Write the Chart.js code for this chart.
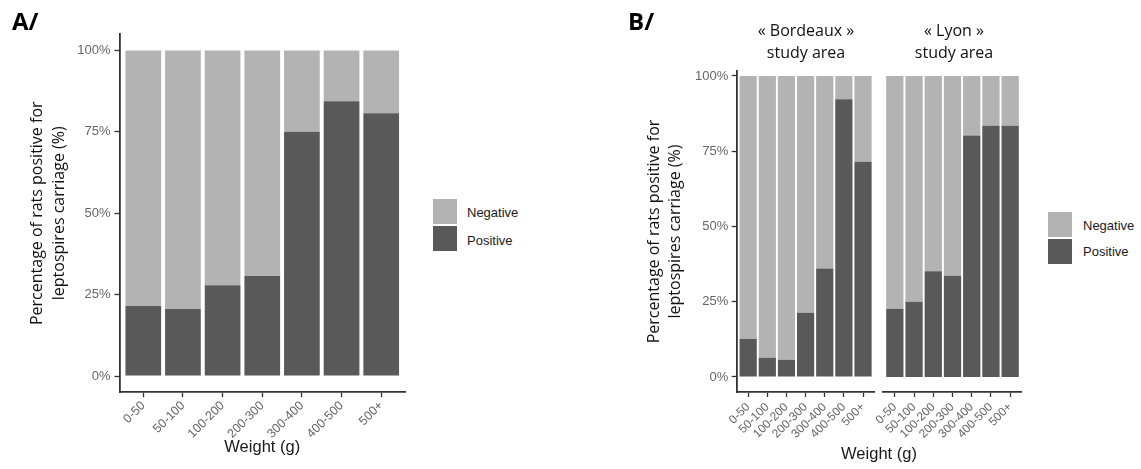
<!DOCTYPE html>
<html><head><meta charset="utf-8">
<script src="https://cdn.jsdelivr.net/npm/chart.js@4.4.1/dist/chart.umd.min.js"></script>
<style>
body{margin:0;background:#fff;width:1141px;height:469px;position:relative;overflow:hidden;font-family:"Liberation Sans",Arial,sans-serif}
canvas{position:absolute;top:0}
.t{position:absolute;white-space:nowrap}
.panel{font-family:"Open Sans",sans-serif;font-weight:700;font-size:24px;line-height:24px;color:#000}
.strip{font-family:"Open Sans",sans-serif;font-size:16px;line-height:21.6px;color:#111;text-align:center;width:160px}
.key{position:absolute;width:24px;height:25px}
.lt{font-size:13px;line-height:20px;color:#1a1a1a}
.xt{font-size:16.5px;line-height:20px;color:#1a1a1a;text-align:center;width:200px}
</style></head><body>
<canvas id="cA" width="420" height="469" style="left:0px"></canvas>
<canvas id="cB1" width="270" height="469" style="left:620px"></canvas>
<canvas id="cB2" width="185" height="469" style="left:850px"></canvas>

<div class="t panel" style="left:12px;top:9px">A/</div>
<div class="t panel" style="left:628px;top:9px">B/</div>
<div class="t strip" style="left:726px;top:20px">« Bordeaux »<br>study area</div>
<div class="t strip" style="left:874px;top:20px">« Lyon »<br>study area</div>
<div class="t xt" style="left:779px;top:443px">Weight (g)</div>

<div class="key" style="left:433px;top:199px;background:#b3b3b3"></div>
<div class="key" style="left:433px;top:226px;background:#595959"></div>
<div class="t lt" style="left:467px;top:203px">Negative</div>
<div class="t lt" style="left:467px;top:231px">Positive</div>

<div class="key" style="left:1048px;top:212px;background:#b3b3b3"></div>
<div class="key" style="left:1048px;top:239px;background:#595959"></div>
<div class="t lt" style="left:1083px;top:216px">Negative</div>
<div class="t lt" style="left:1083px;top:242px">Positive</div>

<script>
const weightClasses = ['0-50','50-100','100-200','200-300','300-400','400-500','500+'];
const yTickValues = [0,25,50,75,100];
const seriesNames = ['Positive','Negative'];

const panelA_positive = [21.5, 20.6, 27.9, 30.7, 75.0, 84.4, 80.7];
const panelA_negative = [78.5, 79.4, 72.1, 69.3, 25.0, 15.6, 19.3];

const bordeaux_positive = [12.6, 6.4, 5.7, 21.3, 36.0, 92.3, 71.5];
const bordeaux_negative = [87.4, 93.6, 94.3, 78.7, 64.0, 7.7, 28.5];

const lyon_positive = [22.7, 25.0, 35.1, 33.6, 80.2, 83.5, 83.5];
const lyon_negative = [77.3, 75.0, 64.9, 66.4, 19.8, 16.5, 16.5];

const yTitle = ['Percentage of rats positive for','leptospires carriage (%)'];
const xTitle = 'Weight (g)';

const COL_POS = '#595959', COL_NEG = '#b3b3b3', AXIS = '#333333', TICKCOL = '#666666';

function pts(arr){ return arr.map((v,i)=>({x:i,y:v})); }

function makePanel(id, pos, neg, o){
  const ctx = document.getElementById(id);
  return new Chart(ctx, {
    type:'bar',
    data:{datasets:[
      {label:seriesNames[0], data:pts(pos), backgroundColor:COL_POS, borderWidth:0, barPercentage:0.9, categoryPercentage:1.0},
      {label:seriesNames[1], data:pts(neg), backgroundColor:COL_NEG, borderWidth:0, barPercentage:0.9, categoryPercentage:1.0}
    ]},
    options:{
      responsive:false, animation:false, devicePixelRatio:1,
      layout:{padding:o.padding},
      plugins:{legend:{display:false}, tooltip:{enabled:false}, title:{display:false}},
      scales:{
        x:{type:'linear', min:-0.6, max:6.6, stacked:true, offset:false,
          afterBuildTicks:s=>{ s.ticks = weightClasses.map((_,i)=>({value:i})); },
          ticks:{callback:v=>weightClasses[v], minRotation:45, maxRotation:45, autoSkip:false,
            font:{family:'"Liberation Sans", Arial, sans-serif', size:o.xTickSize}, color:TICKCOL, padding:o.xTickPad},
          grid:{display:true, offset:false, drawOnChartArea:false, drawTicks:true, tickLength:5, tickColor:AXIS, tickWidth:1.3},
          border:{display:true, color:AXIS, width:1.8},
          title:o.xTitle ? {display:true, text:xTitle, color:'#1a1a1a', font:{family:'"Liberation Sans", Arial, sans-serif', size:16.5, lineHeight:1.2}, padding:{top:0,bottom:12}} : {display:false},
          afterFit:s=>{ s.height = o.xHeight; }
        },
        y:{display:o.yDisplay, min:-5, max:o.yMax, stacked:true,
          afterBuildTicks:s=>{ s.ticks = yTickValues.map(v=>({value:v})); },
          ticks:{callback:v=>v+'%', font:{family:'"Liberation Sans", Arial, sans-serif', size:13}, color:TICKCOL, padding:o.yTickPad},
          grid:{display:true, drawOnChartArea:false, drawTicks:true, tickLength:5, tickColor:AXIS, tickWidth:1.3},
          border:{display:true, color:AXIS, width:1.8},
          title:{display:o.yDisplay, text:yTitle, color:'#111', font:{family:'"Open Sans", sans-serif', size:16, lineHeight:o.yLH}, padding:{top:o.yTitlePad, bottom:0}},
          afterFit:s=>{ s.width = o.yWidth; }
        }
      }
    }
  });
}

makePanel('cA', panelA_positive, panelA_negative, {
  padding:{top:34.2, right:15, left:0, bottom:0}, xHeight:76.7, xTickSize:12.5, xTickPad:1, xTitle:true,
  yDisplay:true, yMax:105, yTickPad:4, yLH:1.4, yTitlePad:26.3, yWidth:119.5
});
makePanel('cB1', bordeaux_positive, bordeaux_negative, {
  padding:{top:71, right:15.5, left:0, bottom:0}, xHeight:77, xTickSize:12, xTickPad:3, xTitle:false,
  yDisplay:true, yMax:101.66, yTickPad:3.5, yLH:1.27, yTitlePad:24.5, yWidth:116.7
});
makePanel('cB2', lyon_positive, lyon_negative, {
  padding:{top:71, right:13.3, left:33.3, bottom:0}, xHeight:77, xTickSize:12, xTickPad:3, xTitle:false,
  yDisplay:false, yMax:101.66, yTickPad:3.5, yLH:1.27, yTitlePad:24.5, yWidth:0
});
</script>
</body></html>
